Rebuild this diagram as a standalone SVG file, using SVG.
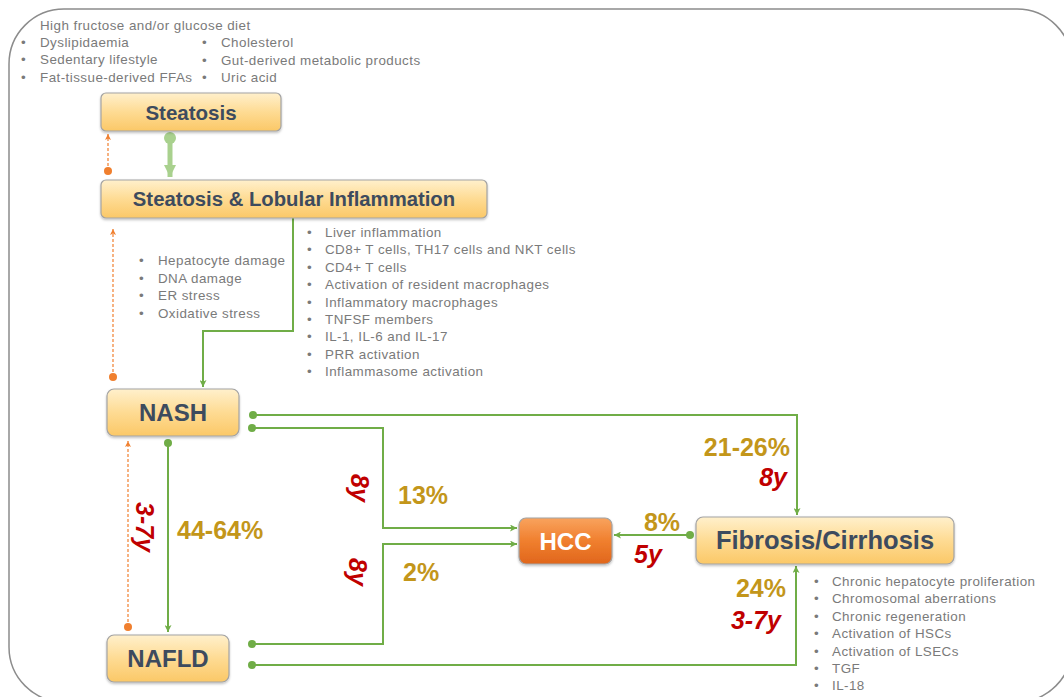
<svg xmlns="http://www.w3.org/2000/svg" width="1064" height="697" viewBox="0 0 1064 697">
<style>
.lst{font-family:"Liberation Sans",Arial,sans-serif;font-size:13.4px;letter-spacing:0.45px;fill:#7a7a7a}
.node{stroke:#a3a3a3;stroke-width:1.2}
.ntxt{font-family:"Liberation Sans",Arial,sans-serif;font-weight:bold;fill:#3d4b5e;text-anchor:middle}
.pct{font-family:"Liberation Sans",Arial,sans-serif;font-weight:bold;font-size:25px;fill:#c3961a}
.yr{font-family:"Liberation Sans",Arial,sans-serif;font-weight:bold;font-style:italic;font-size:25px;fill:#c00000}
.g{fill:none;stroke:#70ad47;stroke-width:2;marker-end:url(#ga)}
.o{fill:none;stroke:#f07f2e;stroke-width:1.2;stroke-dasharray:3 2;marker-end:url(#oa)}
.gd{fill:#70ad47}
.od{fill:#f07f2e}
</style>
<defs>
<linearGradient id="yg" x1="0" y1="0" x2="0" y2="1">
<stop offset="0" stop-color="#fff0cc"/>
<stop offset="0.5" stop-color="#fedb93"/>
<stop offset="1" stop-color="#fbc867"/>
</linearGradient>
<linearGradient id="og" x1="0" y1="0" x2="0" y2="1">
<stop offset="0" stop-color="#f9a35e"/>
<stop offset="0.5" stop-color="#f07f2e"/>
<stop offset="1" stop-color="#e0661c"/>
</linearGradient>
<filter id="sh" x="-10%" y="-10%" width="120%" height="130%">
<feDropShadow dx="0" dy="1.5" stdDeviation="1.2" flood-color="#000" flood-opacity="0.25"/>
</filter>
<marker id="ga" viewBox="0 0 10 10" refX="10" refY="5" markerWidth="8" markerHeight="7" markerUnits="userSpaceOnUse" orient="auto">
<path d="M0,0 L10,5 L0,10 L2.5,5 Z" fill="#70ad47"/>
</marker>
<marker id="oa" viewBox="0 0 10 10" refX="10" refY="5" markerWidth="7" markerHeight="6" markerUnits="userSpaceOnUse" orient="auto">
<path d="M0,0 L10,5 L0,10 L2.5,5 Z" fill="#f07f2e"/>
</marker>
<marker id="la" viewBox="0 0 10 10" refX="10" refY="5" markerWidth="12" markerHeight="15" markerUnits="userSpaceOnUse" orient="auto">
<path d="M0,0 L10,5 L0,10 Z" fill="#a9d18e"/>
</marker>
</defs>
<rect x="9" y="9" width="1063" height="693" rx="55" ry="55" fill="#fff" stroke="#8c8c8c" stroke-width="1.5"/>

<g id="risk-factors" class="lst">
<text x="40" y="30">High fructose and/or glucose diet</text>
<text x="21" y="47">•</text><text x="40" y="47">Dyslipidaemia</text>
<text x="21" y="64">•</text><text x="40" y="64">Sedentary lifestyle</text>
<text x="21" y="82">•</text><text x="40" y="82">Fat-tissue-derived  FFAs</text>
<text x="202" y="47">•</text><text x="221" y="47">Cholesterol</text>
<text x="202" y="65">•</text><text x="221" y="65">Gut-derived  metabolic products</text>
<text x="202" y="82">•</text><text x="221" y="82">Uric acid</text>
</g>

<g id="damage-list" class="lst">
<text x="139" y="265">•</text><text x="158" y="265">Hepatocyte damage</text>
<text x="139" y="283">•</text><text x="158" y="283">DNA damage</text>
<text x="139" y="300">•</text><text x="158" y="300">ER stress</text>
<text x="139" y="318">•</text><text x="158" y="318">Oxidative stress</text>
</g>

<g id="inflammation-list" class="lst">
<text x="307" y="237">•</text><text x="325" y="237">Liver inflammation</text>
<text x="307" y="254.4">•</text><text x="325" y="254.4">CD8+ T cells, TH17 cells and NKT cells</text>
<text x="307" y="271.8">•</text><text x="325" y="271.8">CD4+ T cells</text>
<text x="307" y="289.2">•</text><text x="325" y="289.2">Activation of resident macrophages</text>
<text x="307" y="306.6">•</text><text x="325" y="306.6">Inflammatory macrophages</text>
<text x="307" y="324">•</text><text x="325" y="324">TNFSF members</text>
<text x="307" y="341.4">•</text><text x="325" y="341.4">IL-1, IL-6 and IL-17</text>
<text x="307" y="358.8">•</text><text x="325" y="358.8">PRR activation</text>
<text x="307" y="376.2">•</text><text x="325" y="376.2">Inflammasome activation</text>
</g>

<g id="fibrosis-list" class="lst">
<text x="814" y="586">•</text><text x="832" y="586">Chronic hepatocyte proliferation</text>
<text x="814" y="603.4">•</text><text x="832" y="603.4">Chromosomal aberrations</text>
<text x="814" y="620.8">•</text><text x="832" y="620.8">Chronic regeneration</text>
<text x="814" y="638.2">•</text><text x="832" y="638.2">Activation of HSCs</text>
<text x="814" y="655.6">•</text><text x="832" y="655.6">Activation of LSECs</text>
<text x="814" y="673">•</text><text x="832" y="673">TGF</text>
<text x="814" y="690.4">•</text><text x="832" y="690.4">IL-18</text>
</g>

<g id="connectors">
<line x1="170" y1="138" x2="170" y2="177" stroke="#a9d18e" stroke-width="5" marker-end="url(#la)"/>
<circle cx="170" cy="138" r="6" fill="#a9d18e"/>
<path class="o" d="M108,171 V134"/><circle class="od" cx="108" cy="171" r="4"/>
<path class="o" d="M113,377 V229"/><circle class="od" cx="113" cy="377" r="4"/>
<path class="o" d="M128,627 V441"/><circle class="od" cx="128" cy="627" r="4"/>
<path class="g" d="M293,218 V331 H203 V387"/>
<path class="g" d="M168,443 V632"/><circle class="gd" cx="168" cy="443" r="4"/>
<path class="g" d="M253,415 H797 V515"/><circle class="gd" cx="253" cy="415" r="4"/>
<path class="g" d="M252,428 H383 V528 H517"/><circle class="gd" cx="252" cy="428" r="4"/>
<path class="g" d="M252,644 H383 V544 H517"/><circle class="gd" cx="252" cy="644" r="4"/>
<path class="g" d="M252,665 H796 V566"/><circle class="gd" cx="252" cy="665" r="4"/>
<path class="g" d="M690,535 H614"/><circle class="gd" cx="690" cy="535" r="4"/>
</g>

<g id="labels">
<text class="pct" x="177" y="539">44-64%</text>
<text class="yr" transform="translate(145,527) rotate(90)" text-anchor="middle" y="9">3-7y</text>
<text class="yr" transform="translate(360,488) rotate(90)" text-anchor="middle" y="9">8y</text>
<text class="pct" x="398" y="504">13%</text>
<text class="yr" transform="translate(358,572) rotate(90)" text-anchor="middle" y="9">8y</text>
<text class="pct" x="403" y="581">2%</text>
<text class="pct" x="790" y="456" text-anchor="end">21-26%</text>
<text class="yr" x="787" y="486" text-anchor="end">8y</text>
<text class="pct" x="662" y="531" text-anchor="middle">8%</text>
<text class="yr" x="648" y="563" text-anchor="middle">5y</text>
<text class="pct" x="786" y="597" text-anchor="end">24%</text>
<text class="yr" x="781" y="629" text-anchor="end">3-7y</text>
</g>

<g id="steatosis">
<rect class="node" x="101" y="93" width="180" height="38" rx="5" fill="url(#yg)" filter="url(#sh)"/>
<text class="ntxt" x="191" y="120" font-size="20.5">Steatosis</text>
</g>
<g id="steatosis-lobular">
<rect class="node" x="101" y="180" width="386" height="38" rx="5" fill="url(#yg)" filter="url(#sh)"/>
<text class="ntxt" x="294" y="206" font-size="20.3">Steatosis &amp; Lobular Inflammation</text>
</g>
<g id="nash">
<rect class="node" x="107" y="389" width="132" height="47" rx="7" fill="url(#yg)" filter="url(#sh)"/>
<text class="ntxt" x="173" y="421" font-size="24">NASH</text>
</g>
<g id="nafld">
<rect class="node" x="107" y="635" width="122" height="47" rx="7" fill="url(#yg)" filter="url(#sh)"/>
<text class="ntxt" x="168" y="667" font-size="24">NAFLD</text>
</g>
<g id="hcc">
<rect class="node" x="519" y="518" width="93" height="46" rx="7" fill="url(#og)" filter="url(#sh)"/>
<text class="ntxt" x="565.5" y="550" font-size="24" style="fill:#fff">HCC</text>
</g>
<g id="fibrosis">
<rect class="node" x="696" y="517" width="258" height="47" rx="7" fill="url(#yg)" filter="url(#sh)"/>
<text class="ntxt" x="825" y="549" font-size="25.5">Fibrosis/Cirrhosis</text>
</g>
</svg>
